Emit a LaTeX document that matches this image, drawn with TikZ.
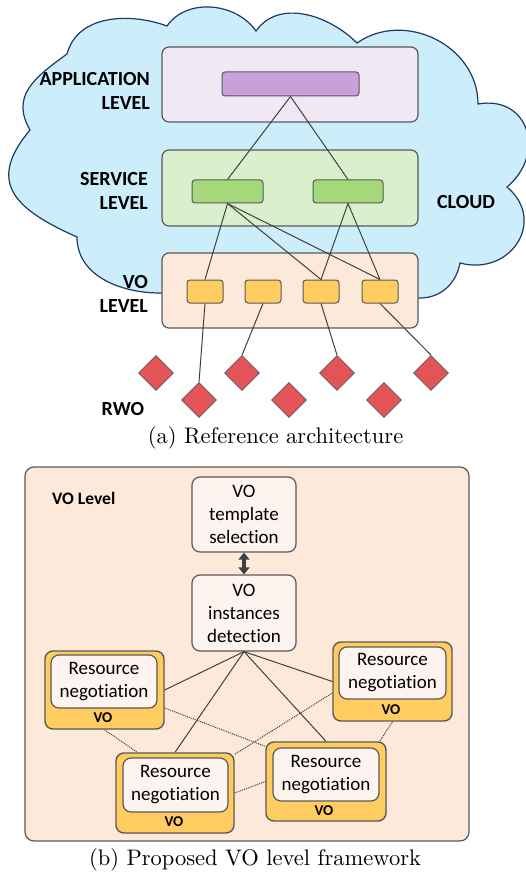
\documentclass[tikz,border=0pt]{standalone}
\usepackage{fontspec}
\newfontfamily\carl{Carlito}[Ligatures=NoCommon,Contextuals=NoAlternate]
\usetikzlibrary{shapes.geometric,calc,arrows.meta}
\definecolor{cloudfill}{HTML}{CCEEFA}
\definecolor{cloudline}{HTML}{1F3864}
\definecolor{appfill}{HTML}{F0E8F5}
\definecolor{purplebar}{HTML}{C9A0DC}
\definecolor{servfill}{HTML}{DAEFCB}
\definecolor{greenbar}{HTML}{A5D87A}
\definecolor{vofill}{HTML}{FDE9D9}
\definecolor{yellowbox}{HTML}{FFCC5F}
\definecolor{rwofill}{HTML}{E35358}
\definecolor{innerfill}{HTML}{FDF3EF}
\definecolor{boxline}{HTML}{595959}
\definecolor{linkline}{HTML}{404040}
\tikzset{
  levelbox/.style={draw=boxline, line width=1.2pt, rounded corners=7pt, inner sep=0pt},
  smallbox/.style={draw=boxline, line width=1pt, rounded corners=3pt, inner sep=0pt},
  rwo/.style={diamond, draw=boxline, line width=0.8pt, fill=rwofill, inner sep=0pt, minimum width=35pt, minimum height=35pt},
  lbl/.style={font=\carl\bfseries\fontsize{20}{24}\selectfont, inner sep=0pt, align=right},
  link/.style={draw=linkline, line width=1pt},
  dlink/.style={draw=linkline, line width=1pt, densely dotted},
  txtbox/.style={draw=boxline, line width=1.2pt, rounded corners=8pt, fill=innerfill, inner sep=0pt, align=center, font=\carl\fontsize{19}{23}\selectfont},
  vobox/.style={draw=boxline, line width=1.4pt, rounded corners=8pt, fill=yellowbox, inner sep=0pt},
  volbl/.style={font=\carl\bfseries\fontsize{15}{18}\selectfont, inner sep=0pt},
  captext/.style={font=\fontsize{10}{12}\selectfont, inner sep=0pt, scale=2.25}
}
\begin{document}
\begin{tikzpicture}[x=1pt,y=1pt]
\useasboundingbox (0,0) rectangle (525,-874);
% cloud
\draw[fill=cloudfill, draw=cloudline, line width=1.2pt]
  (77,-237) to[out=156,in=230,looseness=1.5] (30,-130)
  to[out=120,in=216,looseness=1.2] (67,-54)
  to[out=75,in=160,looseness=1] (167,-26)
  to[out=55,in=125] (256,-31)
  to[out=55,in=135] (357,-43)
  to[out=35,in=90,looseness=1.1] (478,-104)
  to[out=10,in=40,looseness=1.5] (507,-187)
  to[out=-40,in=-15,looseness=1.5] (460,-263)
  to[out=-100,in=0] (420,-298)
  to[out=180,in=0] (160,-293)
  to[out=180,in=-90] (77,-237) -- cycle;
% level boxes
\node[levelbox, fill=appfill, minimum width=256pt, minimum height=75pt] (app) at (290,-84.5) {};
\node[levelbox, fill=servfill, minimum width=256pt, minimum height=76pt] (serv) at (290,-188) {};
\node[levelbox, fill=vofill, minimum width=256pt, minimum height=75pt] (volev) at (290,-290.5) {};
\node[lbl, anchor=east] (lapp) at (150,-91) {APPLICATION\\LEVEL};
\node[lbl, anchor=east] (lserv) at (148,-191) {SERVICE\\LEVEL};
\node[lbl, anchor=east] (lvo) at (148,-293.5) {VO\\LEVEL};
\node[lbl] (lrwo) at (123,-409) {RWO};
\node[lbl] (lcloud) at (466,-202) {CLOUD};
% small boxes
\node[smallbox, fill=purplebar, minimum width=137pt, minimum height=24pt] (bar) at (290.5,-84) {};
\node[smallbox, fill=greenbar, minimum width=71pt, minimum height=23pt] (g1) at (227.5,-191.5) {};
\node[smallbox, fill=greenbar, minimum width=70pt, minimum height=23pt] (g2) at (348,-191.5) {};
\foreach \n/\x in {y1/205,y2/263,y3/321,y4/380}
  \node[smallbox, fill=yellowbox, minimum width=36pt, minimum height=23pt] (\n) at (\x,-291.5) {};
% diamonds
\foreach \n/\x/\y in {d1/156/373,d2/199/400,d3/242/373,d4/289/400,d5/337/373,d6/384/400,d7/431/373}
  \node[rwo] (\n) at (\x,-\y) {};
% links
\draw[link] (bar.south) -- (g1.north);
\draw[link] (bar.south) -- (g2.north);
\draw[link] (g1.south) -- (y1.north);
\draw[link] (g1.south) -- (y3.north);
\draw[link] (g1.south) -- (y4.north);
\draw[link] (g2.south) -- (y3.north);
\draw[link] (g2.south) -- (y4.north);
\draw[link] (y1.south) -- (d2.north);
\draw[link] (y2.south) -- (d3.north);
\draw[link] (y3.south) -- (d5.north);
\draw[link] (y4.south) -- (d7.north);
\node[captext] (capa) at (275.5,-438) {(a) Reference architecture};
% part b
\node[levelbox, rounded corners=9pt, fill=vofill, minimum width=444pt, minimum height=374pt] (frame) at (247,-654) {};
\node[font=\carl\bfseries\fontsize{17.5}{20}\selectfont, inner sep=0pt, anchor=west] (vol) at (52,-498) {VO Level};
\node[txtbox, minimum width=104pt, minimum height=75pt] (tpl) at (244,-514.5) {VO\\template\\selection};
\node[txtbox, minimum width=104pt, minimum height=76pt] (det) at (244,-613) {VO\\instances\\detection};
\draw[draw=linkline, line width=4.5pt, {Triangle[length=7pt,width=11pt]}-{Triangle[length=7pt,width=11pt]}] (tpl.south) -- (det.north);
% VO boxes
\node[vobox, minimum width=119pt, minimum height=78pt] (rn1) at (104.5,-690) {};
\node[txtbox, minimum width=106pt, minimum height=53pt] (in1) at (104,-681.5) {Resource\\negotiation};
\node[volbl] (v1) at (103,-718) {VO};
\node[vobox, minimum width=119pt, minimum height=79pt] (rn2) at (392.5,-681.5) {};
\node[txtbox, minimum width=107pt, minimum height=52pt] (in2) at (392.5,-673) {Resource\\negotiation};
\node[volbl] (v2) at (391,-710) {VO};
\node[vobox, minimum width=118pt, minimum height=80pt] (rn3) at (175,-793) {};
\node[txtbox, minimum width=105pt, minimum height=54pt] (in3) at (175.5,-785) {Resource\\negotiation};
\node[volbl] (v3) at (174,-822) {VO};
\node[vobox, minimum width=120pt, minimum height=79pt] (rn4) at (326,-781.5) {};
\node[txtbox, minimum width=106pt, minimum height=53pt] (in4) at (326,-774.5) {Resource\\negotiation};
\node[volbl] (v4) at (324,-811) {VO};
% links b
\draw[link] (det.south) -- (rn1.east);
\draw[link] (det.south) -- (rn2.west);
\draw[link] (det.south) -- (rn3.north);
\draw[link] (det.south) -- (rn4.north);
\draw[dlink] ($(rn1.east)+(0,-18)$) -- ($(rn4.north west)+(0,-5)$);
\draw[dlink] (rn1.south) -- ($(rn3.north west)+(22,0)$);
\draw[dlink] ($(rn2.west)+(0,-11.5)$) -- ($(rn3.north east)+(0,-2)$);
\draw[dlink] (rn2.south) -- ($(rn4.north east)+(-7,0)$);
\draw[dlink] (rn3.east) -- (rn4.west);
\node[captext] (capb) at (255,-860) {(b) Proposed VO level framework};
\end{tikzpicture}
\end{document}
